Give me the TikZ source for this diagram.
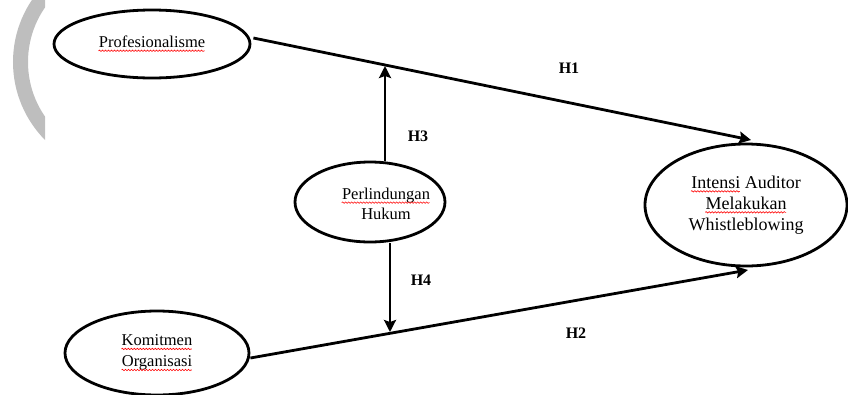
\documentclass[tikz,border=0pt]{standalone}
\usepackage{fontspec}
\setmainfont{Liberation Serif}
\usetikzlibrary{arrows.meta,shapes.geometric,decorations.pathmorphing}
\newsavebox\wavebox
\newcommand\redwave[1]{\sbox\wavebox{#1}\usebox\wavebox\llap{\tikz[baseline=0pt]\draw[red,line width=0.6pt,decorate,decoration={snake,amplitude=0.7pt,segment length=3pt}] (0pt,-3pt) -- (\wd\wavebox,-3pt);}}
\definecolor{arcgray}{HTML}{BEBEBE}
\tikzset{
  oval/.style={draw=black, line width=2.8pt, ellipse, inner sep=0pt, align=center,
    font=\fontsize{16.5}{21}\selectfont},
  txt/.style={align=center, inner sep=0pt, font=\fontsize{16.5}{20}\selectfont},
  hlabel/.style={inner sep=0pt, font=\fontsize{16}{18}\selectfont\bfseries},
  arr/.style={line width=2.8pt, -{Stealth[length=12pt,width=12pt,inset=2pt]}},
}
\begin{document}
\begin{tikzpicture}[x=1pt,y=-1pt]
\useasboundingbox (0,0) rectangle (848,394);
% decorative grey arc at left edge
\begin{scope}
  \clip (0,0) rectangle (45,394);
  \draw[arcgray, line width=15pt] (124,62) circle[radius=103.5];
\end{scope}
% ellipses
\node[oval, minimum width=196pt, minimum height=68pt] (prof) at (152,44) {\redwave{Profesionalisme}};
\node[oval, minimum width=150pt, minimum height=80pt] (perl) at (370,202) {};
\node[txt] (perltxt) at (386,204) {\redwave{Perlindungan}\\Hukum};
\node[oval, minimum width=202pt, minimum height=122pt,
  font=\fontsize{18}{21}\selectfont] (int) at (746,205)
  {\redwave{Intensi} Auditor\\\redwave{Melakukan}\\Whistleblowing};
\node[oval, minimum width=184pt, minimum height=84pt] (kom) at (157,353)
  {\redwave{Komitmen}\\\redwave{Organisasi}};
% connector end points
\coordinate (h1start) at ([shift={(2,-6)}]prof.east);
\coordinate (h2start) at ([shift={(0,5)}]kom.east);
\coordinate (h1end) at (751,140);
\coordinate (h2end) at (748,270);
\coordinate (h3end) at (385,66);
\coordinate (h4end) at (390,332);
% connectors
\draw[arr] (h1start) -- (h1end);
\draw[arr] (h2start) -- (h2end);
\draw[arr] (perl.north -| h3end) -- (h3end);
\draw[arr] (perl.south -| h4end) -- (h4end);
% labels
\node[hlabel] (lh1) at (569,68) {H1};
\node[hlabel] (lh3) at (418,136) {H3};
\node[hlabel] (lh4) at (421,280) {H4};
\node[hlabel] (lh2) at (576,333) {H2};
\end{tikzpicture}
\end{document}
